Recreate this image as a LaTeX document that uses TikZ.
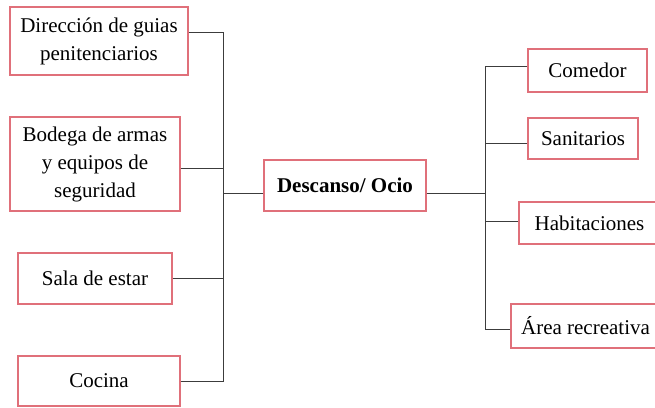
\documentclass[tikz,border=0pt]{standalone}
\usepackage{fontspec}
\setmainfont{Liberation Serif}
\usepackage{tikz}
\usetikzlibrary{positioning}
\definecolor{xrose}{RGB}{224,112,122}
\definecolor{xline}{RGB}{60,60,60}

\begin{document}
\begin{tikzpicture}[x=1pt, y=-1pt,
  box/.style={draw=xrose, fill=white, line width=1.3pt, inner sep=0pt,
              font=\fontsize{21}{28}\selectfont, align=center},
  hubbox/.style={box, font=\fontsize{21}{28}\selectfont\bfseries},
  conn/.style={draw=xline, line width=1pt}
]
  \useasboundingbox (0,0) rectangle (655,407);

  % left branches
  \node[box, minimum width=178pt, minimum height=68pt] (guias)  at (99,41)    {Dirección de guias\\penitenciarios};
  \node[box, minimum width=170pt, minimum height=94pt] (bodega) at (95,164)   {Bodega de armas\\y equipos de\\seguridad};
  \node[box, minimum width=154pt, minimum height=51pt] (sala)   at (95,278.5) {Sala de estar};
  \node[box, minimum width=162pt, minimum height=50pt] (cocina) at (99,381)   {Cocina};

  % centre
  \node[hubbox, minimum width=162pt, minimum height=51pt] (ocio) at (345,185.5) {Descanso/ Ocio};

  % right branches
  \node[box, minimum width=119pt, minimum height=43pt] (comedor) at (587.5,70.5) {Comedor};
  \node[box, minimum width=110pt, minimum height=41pt] (sanit)   at (583,138.5)  {Sanitarios};
  \node[box, minimum width=141pt, minimum height=42pt] (habit)   at (589.5,223)  {Habitaciones};
  \node[box, minimum width=149pt, minimum height=44pt] (area)    at (585.5,326)  {Área recreativa};

  \coordinate (lbus) at (223,193);
  \coordinate (rbus) at (485,193);

  \draw[conn] ([yshift=-7.5pt]ocio.west) -- (lbus);
  \draw[conn] ([yshift=9pt]guias.east)   -| (lbus);
  \draw[conn] ([yshift=-4pt]bodega.east) -| (lbus);
  \draw[conn] (sala.east)                -| (lbus);
  \draw[conn] (cocina.east)              -| (lbus);

  \draw[conn] ([yshift=-7.5pt]ocio.east)  -- (rbus);
  \draw[conn] ([yshift=4.5pt]comedor.west) -| (rbus);
  \draw[conn] ([yshift=-4.5pt]sanit.west)  -| (rbus);
  \draw[conn] ([yshift=2pt]habit.west)     -| (rbus);
  \draw[conn] ([yshift=-3pt]area.west)     -| (rbus);
\end{tikzpicture}
\end{document}
